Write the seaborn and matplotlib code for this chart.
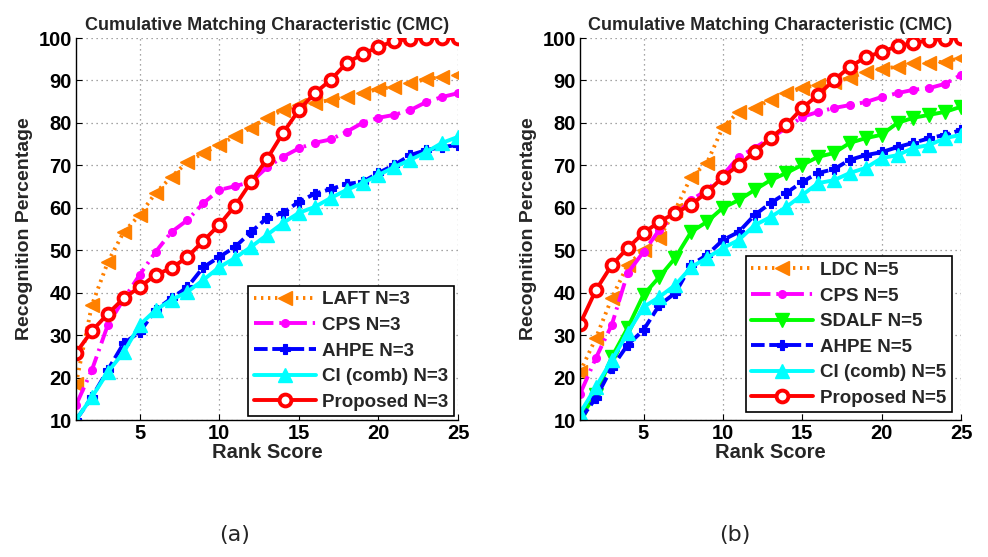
import numpy as np
import pandas as pd
import matplotlib
matplotlib.use("Agg")
import matplotlib.pyplot as plt
import seaborn as sns

ranks = list(range(1, 26))

# Panel (a): N=3
laft_n3 = [18.5, 37.1, 47.2, 54.3, 58.3, 63.5, 67.3, 70.8, 72.9, 74.8, 76.9, 78.8, 81.2,
           83.0, 84.2, 84.7, 85.4, 86.2, 87.0, 88.0, 88.5, 89.4, 90.3, 90.8, 91.3]
cps_n3 = [13.5, 21.8, 32.4, 38.5, 44.2, 49.6, 54.3, 57.1, 61.1, 64.2, 65.1, 66.1, 69.5,
          72.0, 74.0, 75.3, 76.1, 77.9, 80.0, 81.2, 81.9, 83.0, 84.9, 86.1, 87.0]
ahpe_n3 = [10.0, 15.4, 21.8, 28.1, 30.7, 35.9, 38.7, 41.3, 46.0, 48.4, 50.8, 54.3, 57.6,
           58.8, 61.4, 63.3, 64.4, 65.6, 66.1, 68.2, 70.1, 72.4, 73.6, 74.3, 74.8]
ci_n3 = [10.0, 15.4, 21.3, 26.0, 32.4, 35.9, 38.3, 40.2, 43.0, 46.0, 48.2, 50.8, 53.6,
         56.4, 58.8, 60.2, 62.3, 64.2, 65.8, 67.7, 69.6, 71.3, 73.1, 75.3, 76.7]
prop_n3 = [25.8, 31.0, 35.0, 38.7, 41.3, 44.2, 45.8, 48.4, 52.2, 56.0, 60.5, 66.1, 71.5,
           77.6, 83.0, 87.0, 90.1, 94.1, 96.2, 97.9, 99.3, 99.8, 100.0, 100.0, 100.0]

# Panel (b): N=5
ldc_n5 = [21.3, 29.3, 38.7, 46.5, 50.0, 52.9, 59.5, 67.3, 70.6, 79.0, 82.6, 83.5, 85.4,
          87.0, 88.2, 89.0, 89.6, 90.6, 92.0, 92.8, 93.2, 94.1, 94.2, 94.4, 95.3]
cps_n5 = [16.1, 24.6, 32.4, 44.6, 49.6, 54.8, 58.3, 61.8, 64.2, 67.7, 72.0, 74.1, 76.4,
          78.8, 81.4, 82.6, 83.5, 84.2, 84.9, 86.1, 87.0, 87.8, 88.2, 89.2, 91.3]
sdalf_n5 = [10.5, 16.0, 24.8, 31.7, 39.5, 43.7, 48.2, 54.3, 56.7, 60.0, 61.8, 64.2, 66.5,
            68.2, 70.1, 72.0, 72.9, 75.3, 76.4, 77.2, 80.0, 81.2, 81.9, 82.6, 83.8]
ahpe_n5 = [10.0, 15.2, 22.3, 27.7, 31.2, 37.1, 39.9, 46.5, 48.9, 52.4, 54.3, 58.3, 61.1,
           63.5, 66.1, 68.2, 69.1, 71.3, 72.4, 73.1, 74.3, 75.3, 76.4, 77.2, 78.3]
ci_n5 = [11.6, 17.8, 24.1, 30.5, 36.6, 39.0, 41.8, 46.0, 48.2, 50.5, 52.4, 55.9, 57.8,
         60.2, 63.0, 65.8, 66.5, 68.2, 69.4, 71.7, 72.4, 74.1, 74.8, 76.4, 77.2]
prop_n5 = [32.6, 40.6, 46.5, 50.5, 54.1, 56.7, 58.8, 60.7, 63.7, 67.2, 70.1, 73.1, 76.4,
           79.5, 83.5, 86.6, 90.1, 93.2, 95.5, 96.7, 98.1, 98.8, 99.5, 99.8, 100.0]

y_ticks = list(range(10, 101, 10))
x_ticks = [5, 10, 15, 20, 25]

ORANGE = "#FF8000"
MAGENTA = "#FF00FF"
BLUE = "#0000FF"
CYAN = "#00FFFF"
RED = "#FF0000"
GREEN = "#00FF00"

styles = {
    "laft": dict(color=ORANGE, linestyle=(0, (0.6, 1.2)), marker="<", markersize=10,
                 markeredgewidth=1.0, markerfacecolor=ORANGE, markeredgecolor=ORANGE),
    "cps": dict(color=MAGENTA, linestyle=(0, (5, 1.5, 0.6, 1.5)), marker="o", markersize=5.5,
                markeredgewidth=1.0, markerfacecolor=MAGENTA, markeredgecolor=MAGENTA),
    "sdalf": dict(color=GREEN, linestyle="-", marker="v", markersize=10,
                  markeredgewidth=1.0, markerfacecolor=GREEN, markeredgecolor=GREEN),
    "ahpe": dict(color=BLUE, linestyle=(0, (3.5, 1.2)), marker="P", markersize=6.5,
                 markeredgewidth=0.8, markerfacecolor=BLUE, markeredgecolor=BLUE),
    "ci": dict(color=CYAN, linestyle="-", marker="^", markersize=10,
               markeredgewidth=1.0, markerfacecolor=CYAN, markeredgecolor=CYAN),
    "prop": dict(color=RED, linestyle="-", marker="o", markersize=8.5,
                 markeredgewidth=2.8, markerfacecolor="white", markeredgecolor=RED),
}

sns.set_theme(style="white")
plt.rcParams["font.family"] = ["Liberation Sans", "DejaVu Sans"]
plt.rcParams["font.weight"] = "bold"

fig = plt.figure(figsize=(9.88, 5.57), dpi=100)
W, H = 988.0, 557.0


def add_axes(x0, x1, y_top, y_bot):
    return fig.add_axes([x0 / W, 1 - y_bot / H, (x1 - x0) / W, (y_bot - y_top) / H])


ax_a = add_axes(76, 458, 38, 420)
ax_b = add_axes(580, 961, 38, 420)

panel_a = [
    (laft_n3, "LAFT N=3", "laft"),
    (cps_n3, "CPS N=3", "cps"),
    (ahpe_n3, "AHPE N=3", "ahpe"),
    (ci_n3, "CI (comb) N=3", "ci"),
    (prop_n3, "Proposed N=3", "prop"),
]
panel_b = [
    (ldc_n5, "LDC N=5", "laft"),
    (cps_n5, "CPS N=5", "cps"),
    (sdalf_n5, "SDALF N=5", "sdalf"),
    (ahpe_n5, "AHPE N=5", "ahpe"),
    (ci_n5, "CI (comb) N=5", "ci"),
    (prop_n5, "Proposed N=5", "prop"),
]

for ax, series, legend_anchor in [(ax_a, panel_a, (1.0, 0.0)), (ax_b, panel_b, (0.985, 0.01))]:
    for vals, name, key in series:
        df = pd.DataFrame({"rank": ranks, "value": vals})
        sns.lineplot(data=df, x="rank", y="value", ax=ax, label=name,
                     linewidth=2.8, **styles[key])
    ax.set_xlim(1, 25)
    ax.set_ylim(10, 100)
    ax.set_xticks(x_ticks)
    ax.set_yticks(y_ticks)
    ax.grid(True, linestyle=(0, (1, 3)), color="#888888", linewidth=0.9)
    for side in ("top", "right"):
        ax.spines[side].set_visible(False)
    for side in ("left", "bottom"):
        ax.spines[side].set_color("black")
        ax.spines[side].set_linewidth(1.0)
    ax.tick_params(axis="both", direction="in", length=4, width=0.8, colors="black",
                   labelsize=14.5, pad=3, left=True, bottom=True)
    for lbl in ax.get_xticklabels() + ax.get_yticklabels():
        lbl.set_fontweight("bold")
    ax.set_xlabel("Rank Score", fontsize=14.5, fontweight="bold", labelpad=0)
    ax.set_ylabel("Recognition Percentage", fontsize=14, fontweight="bold", labelpad=4)
    ax.set_title("Cumulative Matching Characteristic (CMC)", fontsize=13, fontweight="bold",
                 pad=6)
    leg = ax.legend(loc="lower right", bbox_to_anchor=legend_anchor, frameon=True,
                    fancybox=False, edgecolor="black", framealpha=1.0,
                    prop={"weight": "bold", "size": 13.5}, handlelength=3.3,
                    handletextpad=0.35, borderpad=0.3, labelspacing=0.45, borderaxespad=0.2)
    leg.get_frame().set_linewidth(1.2)

fig.text(235 / W, 1 - 535 / H, "(a)", fontsize=16, ha="center", va="center",
         fontweight="normal", family="DejaVu Sans")
fig.text(735 / W, 1 - 535 / H, "(b)", fontsize=16, ha="center", va="center",
         fontweight="normal", family="DejaVu Sans")

fig.savefig("out.png", dpi=100, facecolor="white")
